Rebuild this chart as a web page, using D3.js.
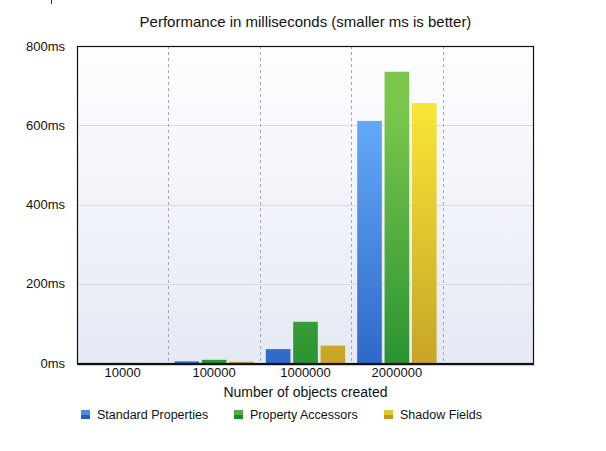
<!DOCTYPE html>
<html>
<head>
<meta charset="utf-8">
<script src="https://cdn.jsdelivr.net/npm/d3@7"></script>
<style>
    body { margin: 0; background: #fff; }
    text { font-family: "Liberation Sans", Arial, sans-serif; fill: #111; }
</style>
</head>
<body>
<div id="chart"></div>
<script>
let categories = ["10000", "100000", "1000000", "2000000", ""];
let seriesNames = ["Standard Properties", "Property Accessors", "Shadow Fields"];
let standardValues = [0.2, 4, 35, 611, 0];
let accessorValues = [0.3, 8, 104, 735, 0];
let shadowValues = [0.2, 3, 44, 656, 0];
let yTicks = [0, 200, 400, 600, 800];

let seriesValues = [standardValues, accessorValues, shadowValues];
let colors = [
    { top: "#65abfa", bottom: "#255dbf" },
    { top: "#7ac64b", bottom: "#1c8a2e" },
    { top: "#f8e436", bottom: "#bf9924" }
];

let width = 606, height = 451;
let margin = { top: 46, right: 72, bottom: 88, left: 77 };
let plotW = width - margin.left - margin.right;
let plotH = height - margin.top - margin.bottom;

let svg = d3.select("#chart").append("svg")
    .attr("width", width)
    .attr("height", height);

let defs = svg.append("defs");
let bg = defs.append("linearGradient").attr("id", "bgGrad")
    .attr("x1", 0).attr("y1", 0).attr("x2", 0).attr("y2", 1);
bg.append("stop").attr("offset", "0%").attr("stop-color", "#fefeff");
bg.append("stop").attr("offset", "100%").attr("stop-color", "#e5e9f4");

colors.forEach(function (c, i) {
    let g = defs.append("linearGradient").attr("id", "barGrad" + i)
        .attr("gradientUnits", "userSpaceOnUse")
        .attr("x1", 0).attr("y1", margin.top + 20).attr("x2", 0).attr("y2", margin.top + plotH);
    g.append("stop").attr("offset", "0%").attr("stop-color", c.top);
    g.append("stop").attr("offset", "100%").attr("stop-color", c.bottom);
});

// tiny stray mark in the corner of the original
svg.append("line")
    .attr("x1", 51.5).attr("x2", 51.5).attr("y1", 0).attr("y2", 4)
    .attr("stroke", "#333").attr("stroke-width", 1);

svg.append("text")
    .attr("x", margin.left + plotW / 2)
    .attr("y", 27)
    .attr("text-anchor", "middle")
    .style("font-size", "15px")
    .text("Performance in milliseconds (smaller ms is better)");

let plot = svg.append("g")
    .attr("transform", "translate(" + margin.left + "," + margin.top + ")");

let x = d3.scaleBand().domain(categories).range([0, plotW]).paddingInner(0).paddingOuter(0);
let inner = d3.scaleBand().domain(d3.range(seriesNames.length))
    .range([6, x.bandwidth() - 6]).paddingInner(0.1);
let y = d3.scaleLinear().domain([0, 800]).range([plotH, 0]);

plot.append("rect")
    .attr("width", plotW).attr("height", plotH)
    .attr("fill", "url(#bgGrad)");

// horizontal grid
plot.selectAll(".hgrid")
    .data(yTicks.slice(1, -1))
    .join("line")
    .attr("class", "hgrid")
    .attr("x1", 0).attr("x2", plotW)
    .attr("y1", d => Math.round(y(d)) + 0.5).attr("y2", d => Math.round(y(d)) + 0.5)
    .attr("stroke", "#d9dbe2").attr("stroke-width", 1);

// vertical dashed separators
plot.selectAll(".vgrid")
    .data(categories.slice(1))
    .join("line")
    .attr("class", "vgrid")
    .attr("x1", d => Math.round(x(d)) + 0.5).attr("x2", d => Math.round(x(d)) + 0.5)
    .attr("y1", 0).attr("y2", plotH)
    .attr("stroke", "#a8a8ae").attr("stroke-width", 1)
    .attr("stroke-dasharray", "3,3");

// bars
seriesValues.forEach(function (vals, s) {
    plot.selectAll(".bar" + s)
        .data(categories.map((c, i) => ({ c: c, v: vals[i] })))
        .join("rect")
        .attr("class", "bar" + s)
        .attr("x", d => x(d.c) + inner(s))
        .attr("width", inner.bandwidth())
        .attr("y", d => y(d.v))
        .attr("height", d => plotH - y(d.v))
        .attr("fill", "url(#barGrad" + s + ")");
});

// frame
plot.append("rect")
    .attr("x", 0.5).attr("y", 0.5)
    .attr("width", plotW - 1).attr("height", plotH)
    .attr("fill", "none").attr("stroke", "#111").attr("stroke-width", 1.2);
plot.append("line")
    .attr("x1", 0).attr("x2", plotW)
    .attr("y1", plotH + 1).attr("y2", plotH + 1)
    .attr("stroke", "#111").attr("stroke-width", 2);
plot.append("line")
    .attr("x1", 1).attr("x2", plotW + 1)
    .attr("y1", plotH + 2.5).attr("y2", plotH + 2.5)
    .attr("stroke", "#ccc").attr("stroke-width", 1);

// y axis labels
let yAxis = plot.append("g")
    .call(d3.axisLeft(y).tickValues(yTicks).tickSize(0).tickPadding(12).tickFormat(d => d + "ms"));
yAxis.select(".domain").remove();
yAxis.selectAll("text").style("font-size", "13px").attr("fill", "#111").style("font-family", "Liberation Sans, Arial, sans-serif");

// x axis labels
let xAxis = plot.append("g")
    .attr("transform", "translate(0," + plotH + ")")
    .call(d3.axisBottom(x).tickSize(0).tickPadding(5));
xAxis.select(".domain").remove();
xAxis.selectAll("text").style("font-size", "13px").attr("fill", "#111").style("font-family", "Liberation Sans, Arial, sans-serif");

svg.append("text")
    .attr("x", margin.left + plotW / 2)
    .attr("y", 397)
    .attr("text-anchor", "middle")
    .style("font-size", "14px")
    .text("Number of objects created");

// legend
let legendX = [81, 234, 384];
let legend = svg.selectAll(".legend")
    .data(seriesNames)
    .join("g")
    .attr("class", "legend")
    .attr("transform", (d, i) => "translate(" + legendX[i] + ",410)");
legend.append("rect")
    .attr("width", 9).attr("height", 9)
    .attr("fill", (d, i) => colors[i].bottom);
legend.append("rect")
    .attr("width", 9).attr("height", 5)
    .attr("fill", (d, i) => colors[i].top).attr("opacity", 0.6);
legend.append("text")
    .attr("x", 16).attr("y", 9)
    .style("font-size", "12.5px")
    .text(d => d);
</script>
</body>
</html>
